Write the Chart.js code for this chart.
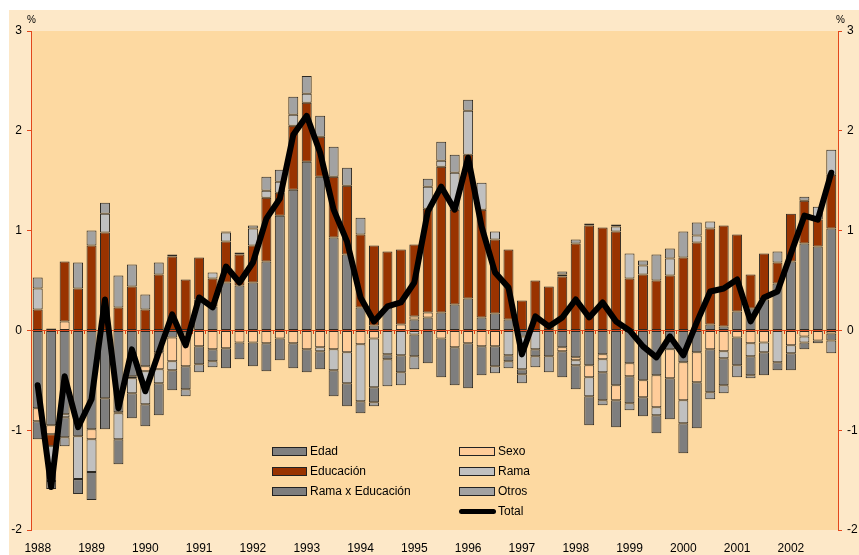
<!DOCTYPE html>
<html>
<head>
<meta charset="utf-8">
<script src="https://cdn.jsdelivr.net/npm/chart.js@4.4.1/dist/chart.umd.min.js"></script>
<style>
  html, body { margin: 0; padding: 0; background: #ffffff; }
  #wrap { position: relative; width: 859px; height: 555px; overflow: hidden; }
  #outer { position: absolute; left: 9px; top: 10px; width: 850px; height: 545px; background: #FDE8C8; }
  #chart { position: absolute; left: 0; top: 0; }
  .pct { position: absolute; top: 14px; font: 10px "Liberation Sans", Arial, sans-serif; color: #000; }
  .lg { position: absolute; font: 12px/12px "Liberation Sans", Arial, sans-serif; color: #000; white-space: nowrap; }
  .sw { position: absolute; height: 7px; border: 1px solid #222; }
  .ln { position: absolute; height: 5px; border-radius: 3px; background: #000; }
</style>
</head>
<body>
<div id="wrap">
  <div id="outer"></div>
  <canvas id="chart" width="859" height="555"></canvas>
  <div class="pct" style="left:27px;">%</div>
  <div class="pct" style="left:836px;">%</div>
  <div id="legend"></div>
</div>
<script>
// ---- Data (quarterly, 1988-I to 2002-IV) ----
const years = [1988,1989,1990,1991,1992,1993,1994,1995,1996,1997,1998,1999,2000,2001,2002];
const quarters = ['I','II','III','IV'];

const edad = [-0.78,-0.95,-0.84,-1.06,-0.99,-0.68,-0.82,-0.46,-0.36,-0.22,
  -0.07,-0.03,0.31,0.24,0.48,0.45,0.48,0.69,1.15,1.41,
  1.69,1.54,0.93,0.76,0.23,0.05,0.23,0,0.11,0.13,
  0.18,0.26,0.32,0.13,0.17,0.11,-0.06,0,-0.26,-0.17,
  -0.27,-0.35,-0.24,-0.55,-0.33,-0.50,-0.45,-0.19,-0.32,-0.22,
  0.06,0.04,0.19,0.22,0.31,0.47,0.69,0.87,0.84,1.02];

const sexo = [-0.13,-0.09,0.09,0,-0.10,0,-0.01,-0.02,-0.05,-0.17,
  -0.24,-0.33,-0.16,-0.19,-0.18,-0.12,-0.12,-0.13,-0.08,-0.13,
  -0.19,-0.17,-0.19,-0.22,-0.14,-0.08,0,0.06,0.03,0.05,
  -0.08,-0.17,-0.13,-0.16,-0.16,0,0,0,0,-0.04,
  -0.03,-0.12,-0.05,-0.15,-0.13,-0.17,-0.32,-0.29,-0.38,-0.30,
  -0.19,-0.21,-0.07,-0.13,-0.12,0,-0.15,-0.06,-0.10,-0.03];

const educacion = [0.21,-0.12,0.60,0.42,0.85,0.98,0.23,0.44,0.21,0.56,
  0.74,0.51,0.42,0.28,0.41,0.31,0.37,0.64,0.23,0.64,
  0.59,0.40,0.61,0.69,0.73,0.80,0.56,0.75,0.72,1.04,
  1.46,0.95,1.44,1.08,0.74,0.70,0.30,0.50,0.44,0.54,
  0.87,1.05,1.03,0.99,0.52,0.56,0.50,0.55,0.73,0.88,
  0.96,1.01,0.77,0.34,0.46,0.21,0.48,0.43,0.27,0.54];

const rama = [0.21,-0.35,-0.03,-0.43,-0.33,0.19,-0.26,-0.15,-0.33,-0.14,
  -0.09,0,0,0.06,0.09,0,0.17,0.07,0.11,0.11,
  0.09,-0.04,-0.21,-0.31,-0.57,-0.49,-0.24,-0.25,-0.04,0.22,
  0.06,0.37,0.44,0.27,0.08,-0.25,-0.33,-0.19,0,0.02,
  -0.05,-0.19,-0.13,0.05,0.25,0.09,-0.08,0.17,-0.23,0.07,
  0.07,-0.07,0,-0.13,-0.10,-0.32,-0.08,-0.06,0.13,0.25];

const ramaXEducacion = [-0.18,-0.08,-0.20,-0.15,-0.28,-0.31,-0.25,-0.25,-0.22,-0.32,
  -0.20,-0.23,-0.18,-0.12,-0.20,-0.17,-0.24,-0.28,-0.22,-0.25,
  -0.23,-0.18,-0.26,-0.23,-0.12,-0.15,-0.05,-0.17,-0.22,-0.33,
  -0.39,-0.38,-0.45,-0.29,-0.20,-0.06,-0.05,-0.07,0,-0.26,
  -0.24,-0.29,-0.28,-0.27,-0.27,-0.19,-0.18,-0.41,-0.30,-0.46,
  -0.43,-0.27,-0.28,-0.19,-0.23,-0.08,-0.17,-0.07,-0.03,-0.07];

const otros = [0.11,0.02,-0.09,0.26,0.15,0.11,0.32,0.22,0.15,0.12,
  0.02,-0.07,-0.08,-0.06,0.01,0.02,0.03,0.14,0.12,0.18,
  0.18,0.21,0.30,0.18,0.17,-0.04,-0.27,-0.13,-0.13,0.08,
  0.19,0.18,0.11,0,-0.07,-0.07,-0.09,-0.11,-0.16,0.03,
  0.04,0.02,-0.05,0.02,-0.07,0.05,0.26,0.10,0.26,0.13,
  -0.07,-0.08,-0.12,-0.03,0,0.11,0,0.04,0,-0.13];

const total = [-0.55,-1.57,-0.46,-0.97,-0.69,0.31,-0.78,-0.19,-0.61,-0.22,
  0.16,-0.15,0.33,0.23,0.64,0.48,0.68,1.12,1.32,1.96,
  2.15,1.78,1.21,0.89,0.33,0.09,0.24,0.28,0.48,1.19,
  1.44,1.21,1.73,1.04,0.58,0.43,-0.24,0.14,0.04,0.13,
  0.31,0.13,0.28,0.09,0.00,-0.16,-0.27,-0.06,-0.25,0.08,
  0.39,0.42,0.51,0.09,0.33,0.39,0.77,1.15,1.11,1.58];

const yTicks = [-2,-1,0,1,2,3];

// categories built from years/quarters
const categories = [];
years.forEach(y => quarters.forEach(q => categories.push(y + '-' + q)));

// ---- Styles ----
const RED = '#E2471B';
const FONT = '"Liberation Sans", Arial, sans-serif';
const seriesDefs = [
  { label: 'Edad', data: edad, color: '#808080' },
  { label: 'Sexo', data: sexo, color: '#FFCC99' },
  { label: 'Educación', data: educacion, color: '#993300' },
  { label: 'Rama', data: rama, color: '#C0C0C0' },
  { label: 'Rama x Educación', data: ramaXEducacion, color: '#7E7E7E' },
  { label: 'Otros', data: otros, color: '#A2A2A2' }
];

const datasets = seriesDefs.map(s => ({
  type: 'bar',
  label: s.label,
  data: s.data,
  backgroundColor: s.color,
  borderColor: 'rgba(20,20,20,0.9)',
  borderWidth: 1,
  borderSkipped: false,
  stack: 'bars',
  order: 1,
  barPercentage: 0.74,
  categoryPercentage: 1.0,
  xAxisID: 'x',
  yAxisID: 'y'
}));
datasets.push({
  type: 'line',
  label: 'Total',
  data: total,
  borderColor: '#000000',
  backgroundColor: '#000000',
  borderWidth: 6,
  pointRadius: 0,
  tension: 0,
  borderJoinStyle: 'round',
  borderCapStyle: 'round',
  stack: 'total',
  order: 0,
  xAxisID: 'x',
  yAxisID: 'y'
});

const plotBg = {
  id: 'plotBg',
  beforeDraw(chart) {
    const { ctx, chartArea: a } = chart;
    ctx.save();
    ctx.fillStyle = '#FDD9A1';
    ctx.fillRect(a.left, a.top, a.right - a.left, a.bottom - a.top);
    ctx.restore();
  }
};

const yAxisCommon = {
  type: 'linear',
  min: -2, max: 3,
  stacked: true,
  afterBuildTicks(scale) { scale.ticks = yTicks.map(v => ({ value: v })); },
  grid: { drawOnChartArea: false, drawTicks: true, tickLength: 4, color: RED },
  border: { display: true, color: RED, width: 1 },
  ticks: { color: '#000', font: { family: FONT, size: 12 }, padding: 5 }
};

new Chart(document.getElementById('chart'), {
  type: 'bar',
  data: { labels: categories, datasets },
  plugins: [plotBg],
  options: {
    responsive: false,
    animation: false,
    layout: { padding: { top: 31, left: 0, right: 0, bottom: 0 } },
    plugins: { legend: { display: false }, tooltip: { enabled: false } },
    scales: {
      x: {
        type: 'category',
        position: { y: 0 },
        stacked: true,
        offset: true,
        grid: { offset: true, drawOnChartArea: false, drawTicks: true, tickLength: 3, color: RED },
        border: { display: true, color: RED, width: 1 },
        ticks: { display: false, autoSkip: false }
      },
      x2: {
        type: 'category',
        position: 'bottom',
        labels: categories,
        offset: true,
        grid: { display: false, offset: true, drawTicks: false },
        border: { display: false },
        ticks: {
          autoSkip: false, maxRotation: 0, minRotation: 0, padding: 11,
          color: '#000', font: { family: FONT, size: 12 },
          callback: (v, i) => (i % 4 === 0 ? String(years[i / 4]) : '')
        },
        afterFit(scale) { scale.height = 25; }
      },
      y: Object.assign({}, yAxisCommon, {
        position: 'left',
        afterFit(scale) { scale.width = 31; }
      }),
      y2: Object.assign({}, yAxisCommon, {
        position: 'right',
        afterFit(scale) { scale.width = 21; }
      })
    }
  }
});

// ---- HTML legend (real text) ----
const legendItems = [
  { i: 0, col: 0, row: 0 }, { i: 2, col: 0, row: 1 }, { i: 4, col: 0, row: 2 },
  { i: 1, col: 1, row: 0 }, { i: 3, col: 1, row: 1 }, { i: 5, col: 1, row: 2 }
];
const legend = document.getElementById('legend');
const colX = [272, 459];
const swW = [35, 36];
const rowY = [451, 471, 491, 511];
legendItems.forEach(it => {
  const s = seriesDefs[it.i];
  const sw = document.createElement('div');
  sw.className = 'sw';
  sw.style.left = colX[it.col] + 'px';
  sw.style.top = (rowY[it.row] - 4) + 'px';
  sw.style.width = (swW[it.col] - 2) + 'px';
  sw.style.background = s.color;
  legend.appendChild(sw);
  const t = document.createElement('div');
  t.className = 'lg';
  t.style.left = (colX[it.col] + swW[it.col] + 3) + 'px';
  t.style.top = (rowY[it.row] - 6) + 'px';
  t.textContent = s.label;
  legend.appendChild(t);
});
const ln = document.createElement('div');
ln.className = 'ln';
ln.style.left = colX[1] + 'px';
ln.style.top = (rowY[3] - 2) + 'px';
ln.style.width = '37px';
legend.appendChild(ln);
const tt = document.createElement('div');
tt.className = 'lg';
tt.style.left = (colX[1] + 39) + 'px';
tt.style.top = (rowY[3] - 6) + 'px';
tt.textContent = 'Total';
legend.appendChild(tt);
</script>
</body>
</html>
